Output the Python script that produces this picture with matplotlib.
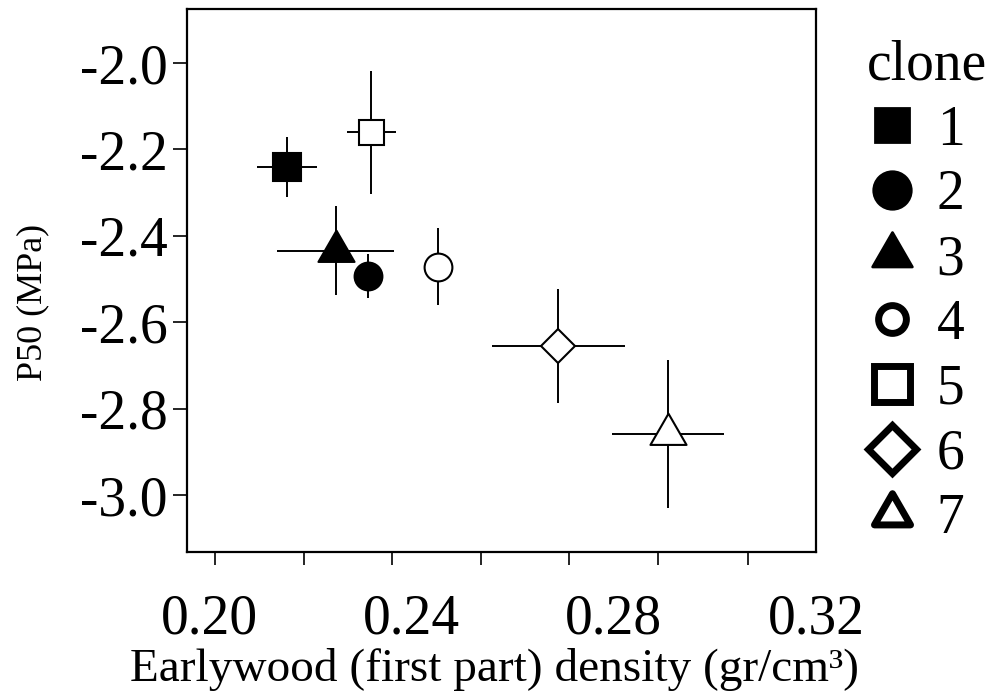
import numpy as np
import matplotlib.pyplot as plt
from matplotlib.path import Path
from matplotlib.lines import Line2D

plt.rcParams['font.family'] = ['Liberation Serif', 'DejaVu Serif']

# clone data: earlywood density (x) vs P50 (y), with errors
clones = ['1', '2', '3', '4', '5', '6', '7']
density = [0.2153, 0.2313, 0.2249, 0.2451, 0.2320, 0.2690, 0.2908]
density_err = [0.0059, 0.0015, 0.0116, 0.0015, 0.0049, 0.0132, 0.0111]
p50 = [-2.240, -2.494, -2.434, -2.471, -2.160, -2.654, -2.859]
p50_err = [0.069, 0.051, 0.104, 0.090, 0.142, 0.132, 0.171]

x_ticklabels = ['0.20', '0.24', '0.28', '0.32']
y_ticklabels = ['-2.0', '-2.2', '-2.4', '-2.6', '-2.8', '-3.0']

# equilateral triangle centred on its centroid
tri = Path([(0, 1), (-0.866, -0.5), (0.866, -0.5), (0, 1)],
           [Path.MOVETO, Path.LINETO, Path.LINETO, Path.CLOSEPOLY])

markers = ['s', 'o', tri, 'o', 's', 'D', tri]
fills = ['black', 'black', 'black', 'white', 'white', 'white', 'white']
sizes = [20, 20, 30, 20, 18, 17, 30]
leg_sizes = [25, 27, 33, 20, 26, 24, 30]
leg_mew = [2, 2, 2, 5, 5, 5, 5]

fig = plt.figure(figsize=(9.86, 6.97), dpi=100)
ax = fig.add_axes([0.190, 0.208, 0.6375, 0.779])

for i in range(len(clones)):
    ax.errorbar(density[i], p50[i], xerr=density_err[i], yerr=p50_err[i],
                fmt='none', ecolor='black', elinewidth=1.4, capsize=0, zorder=2)
    ax.plot(density[i], p50[i], marker=markers[i], ms=sizes[i],
            mfc=fills[i], mec='black', mew=1.5, ls='none', zorder=3)

ax.set_xlim(0.19556, 0.3196)
ax.set_ylim(-3.132, -1.875)

ax.set_xticks([0.20, 0.24, 0.28, 0.32])
ax.set_xticklabels(x_ticklabels)
ax.set_xticks([0.2010, 0.2186, 0.2361, 0.2537, 0.2712, 0.2888, 0.3066], minor=True)
ax.tick_params(axis='x', which='major', length=0, pad=30, labelsize=40)
ax.tick_params(axis='x', which='minor', length=9, width=1.2, direction='out')

ax.set_yticks([-2.0, -2.2, -2.4, -2.6, -2.8, -3.0])
ax.set_yticklabels(y_ticklabels)
ax.tick_params(axis='y', length=10, width=1.2, pad=4, labelsize=40)

for sp in ax.spines.values():
    sp.set_linewidth(1.6)

ax.set_xlabel('Earlywood (first part) density (gr/cm\u00b3)', fontsize=34)
ax.xaxis.set_label_coords(0.488, -0.177)
ax.set_ylabel('P50 (MPa)', fontsize=26)
ax.yaxis.set_label_coords(-0.219, 0.459)

handles = [Line2D([], [], marker=markers[i], ms=leg_sizes[i], mfc=fills[i], mec='black',
                  mew=leg_mew[i], ls='none', solid_joinstyle='round')
           for i in range(len(clones))]
fig.legend(handles, clones, title='clone', loc='upper left', alignment='left',
           bbox_to_anchor=(0.879, 0.943), frameon=False, fontsize=40, title_fontsize=40,
           handlelength=0.9, handletextpad=0.36, labelspacing=0.23, borderpad=0,
           borderaxespad=0)

fig.savefig('out.png', dpi=100)
